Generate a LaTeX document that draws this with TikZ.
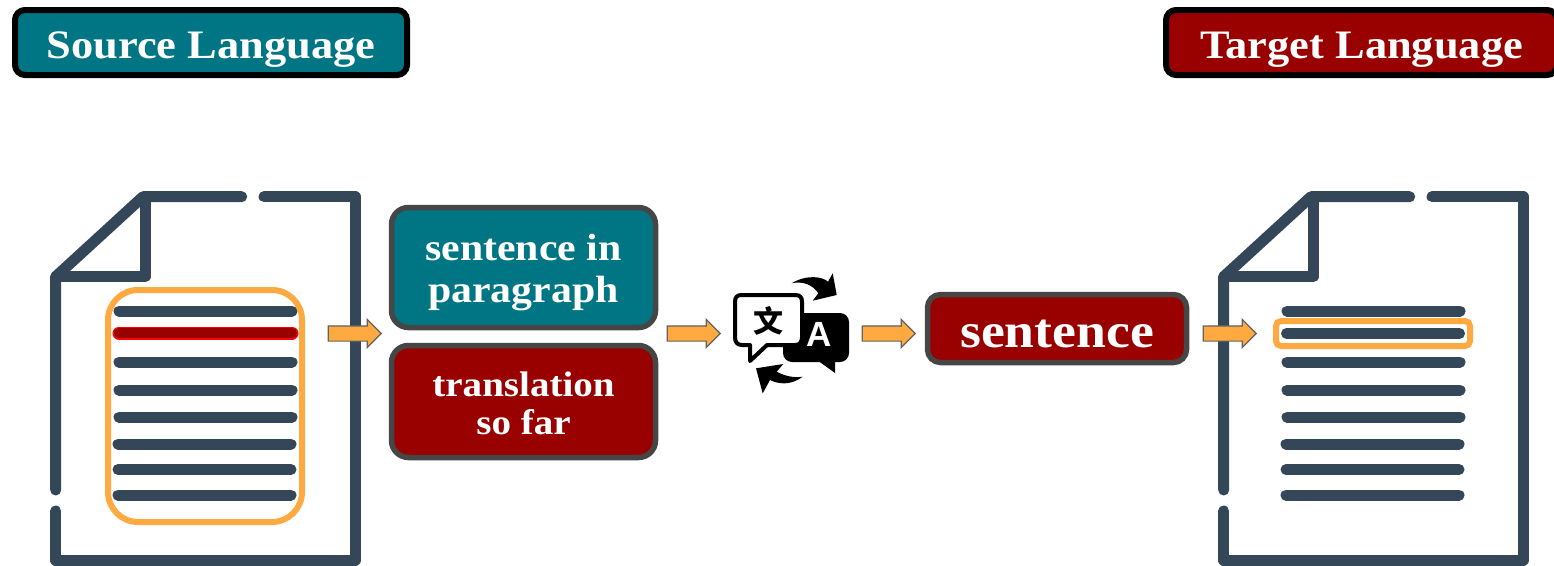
\documentclass[tikz,border=0pt]{standalone}
\usepackage{fontspec}
\setmainfont{Liberation Serif}[FakeStretch=1.1]
\newfontfamily\cjkfont{Noto Sans CJK SC}
\newfontfamily\iconfont{Liberation Sans}
\usetikzlibrary{shapes.arrows}
\definecolor{tealbox}{HTML}{007583}
\definecolor{redbox}{HTML}{990000}
\definecolor{docblue}{HTML}{334759}
\definecolor{markorange}{HTML}{FFAA40}
\definecolor{boxgray}{HTML}{464646}
\newcommand{\pushdown}[1]{\rule{0pt}{#1}}
\tikzset{
    langbox/.style={draw=black, line width=6pt, rounded corners=10pt, text=white, font=\bfseries\fontsize{40.4}{44}\selectfont, minimum height=65pt, text depth=0pt, text height=32pt},
    midbox/.style={draw=boxgray, line width=5.5pt, rounded corners=17pt, text=white, align=center, inner sep=0pt},
    blockarrow/.style={single arrow, draw=boxgray!85, fill=markorange, line width=1.2pt, minimum height=53pt, minimum width=27pt, single arrow head extend=6.5pt, single arrow head indent=0pt, inner sep=0pt, inner ysep=7pt},
    docline/.style={draw=docblue, line width=11pt, line cap=round, line join=round},
    textline/.style={draw=docblue, line width=11pt, line cap=round},
    ringbox/.style={draw=markorange, line width=6pt}
}
\begin{document}
\begin{tikzpicture}[x=1pt,y=-1pt]
    \useasboundingbox (0,0) rectangle (1554,565);

    % Language headers
    \node (source) at (211,42.5) [langbox, fill=tealbox, minimum width=392pt] {Source Language};
    \node (target) at (1361.5,42.5) [langbox, fill=redbox, minimum width=391pt] {Target Language};

    % Both documents
    \foreach \dx in {0,1168} {
        \draw[docline] (241.7+\dx,196.7) -- (143+\dx,196.7) -- (55.7+\dx,276.7) -- (55.7+\dx,490);
        \draw[docline] (264+\dx,196.7) -- (355+\dx,196.7) -- (355+\dx,560) -- (55.7+\dx,560) -- (55.7+\dx,511);
        \draw[docline] (145+\dx,196.7) -- (145+\dx,276.7) -- (55.7+\dx,276.7);
        \foreach \y in {311,362,390,417} {
            \draw[textline] (119+\dx,\y) -- (292+\dx,\y);
        }
        \foreach \y in {444,469.5,495} {
            \draw[textline] (118+\dx,\y) -- (291+\dx,\y);
        }
    }
    \draw[textline] (1286.5,333.5) -- (1459.5,333.5);

    % Highlighted sentence in the source
    \draw[line cap=round, draw=red, line width=13pt] (119,333) -- (292,333);
    \draw[line cap=round, draw=redbox, line width=10pt] (119,333) -- (292,333);

    % Orange marks
    \draw[ringbox, rounded corners=30pt] (108,290) rectangle (302,522);
    \draw[ringbox, rounded corners=5pt] (1276,321) rectangle (1470,346);

    % Middle boxes
    \node (paragraph) at (523.5,267.5) [midbox, fill=tealbox, minimum width=264pt, minimum height=120pt, font=\bfseries\fontsize{38}{42}\selectfont] {\pushdown{37pt}sentence in\\paragraph};
    \node (sofar) at (523.5,401.5) [midbox, fill=redbox, minimum width=264pt, minimum height=112pt, font=\bfseries\fontsize{35.5}{38}\selectfont] {\pushdown{28pt}translation\\so far};
    \node (sentence) at (1057,328.5) [midbox, fill=redbox, minimum width=259pt, minimum height=68pt, rounded corners=13pt, text depth=0pt, text height=38pt, font=\bfseries\fontsize{48.8}{52}\selectfont] {sentence};

    % Block arrows
    \node (arrowa) at (351,333.5) [blockarrow] {};
    \node (arrowb) at (690,333.5) [blockarrow] {};
    \node (arrowc) at (885,333.5) [blockarrow] {};
    \node (arrowd) at (1226,333.5) [blockarrow] {};

    % Translation icon
    \fill[black, rounded corners=9pt] (783,313) rectangle (849,362);
    \fill[black] (817,360) -- (835,373) -- (835,360) -- cycle;
    \draw[black, fill=white, line width=4pt, line join=round] (742,295) -- (795,295) .. controls (800,295) and (802,297) .. (802,302) -- (802,337) .. controls (802,342) and (800,345) .. (795,345) -- (767,345) -- (750,361) -- (750,345) -- (742,345) .. controls (737,345) and (735,342) .. (735,337) -- (735,302) .. controls (735,297) and (737,295) .. (742,295) -- cycle;
    \node (wen) at (768.5,321) [inner sep=0pt, font=\cjkfont\fontsize{30}{30}\selectfont\bfseries] {文};
    \node (latin) at (819.5,334.5) [inner sep=0pt, text=white, font=\iconfont\bfseries\fontsize{35}{35}\selectfont] {A};
    \fill[black] (791.7,283.3) .. controls (806.7,274) and (823,276.7) .. (828,281.7) -- (832.7,273.3) -- (836.7,295) -- (812.7,300.7) -- (818.3,293.3) .. controls (813,285) and (803,280.7) .. (791.7,283.3) -- cycle;
    \fill[black] (802.7,376.7) .. controls (790,386) and (778,384) .. (770,380) -- (762.7,393.3) -- (756,368.3) -- (783.3,364) -- (776.7,371.7) .. controls (785,376) and (793,378) .. (802.7,376.7) -- cycle;
\end{tikzpicture}
\end{document}
